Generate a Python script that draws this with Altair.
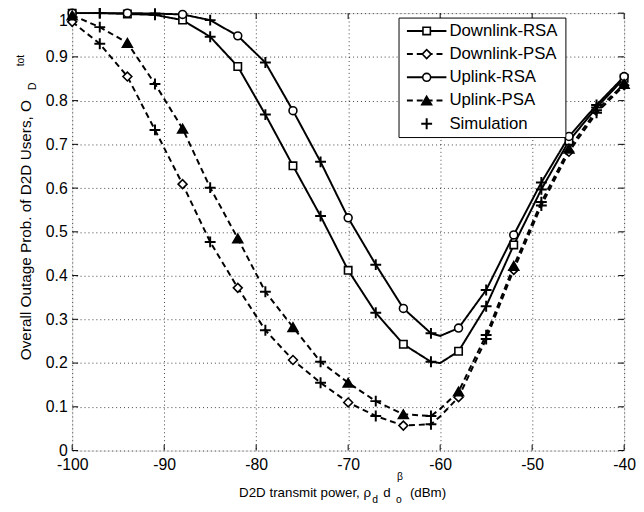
import altair as alt
import pandas as pd

# ---------------- data ----------------
x_curve = [-100, -97, -94, -91, -88, -85, -82, -79, -76, -73, -70,
           -67, -64, -61, -60, -58, -55, -52, -49, -46, -43, -40]

dl_rsa = [1.0, 1.0, 0.998, 0.996, 0.984, 0.946, 0.878, 0.768, 0.651, 0.536, 0.412,
          0.315, 0.243, 0.203, 0.200, 0.227, 0.330, 0.470, 0.597, 0.708, 0.784, 0.851]
dl_psa = [0.980, 0.930, 0.855, 0.733, 0.609, 0.477, 0.372, 0.275, 0.207, 0.155, 0.110,
          0.079, 0.057, 0.060, 0.078, 0.122, 0.255, 0.413, 0.560, 0.683, 0.772, 0.835]
ul_rsa = [1.0, 1.0, 1.0, 0.999, 0.997, 0.984, 0.948, 0.887, 0.777, 0.660, 0.532,
          0.425, 0.325, 0.268, 0.262, 0.280, 0.367, 0.493, 0.613, 0.718, 0.790, 0.855]
ul_psa = [0.995, 0.968, 0.932, 0.838, 0.736, 0.601, 0.485, 0.363, 0.282, 0.203, 0.155,
          0.113, 0.083, 0.079, 0.095, 0.135, 0.264, 0.422, 0.568, 0.690, 0.778, 0.838]

series_names = ["Downlink-RSA", "Downlink-PSA", "Uplink-RSA", "Uplink-PSA"]
series_values = [dl_rsa, dl_psa, ul_rsa, ul_psa]
series_shapes = ["square", "diamond", "circle", "triangle-up"]
series_fill = ["white", "white", "white", "black"]
series_size = [56, 81, 64, 100]
series_dash = [[1, 0], [6, 4], [1, 0], [6, 4]]
sim_name = "Simulation"

marker_x = [-100, -94, -88, -82, -76, -70, -64, -58, -52, -46, -40]
sim_x = [-97, -91, -85, -79, -73, -67, -61, -55, -49, -43]

x_ticks = [-100, -90, -80, -70, -60, -50, -40]
y_ticks = [0, 0.1, 0.2, 0.3, 0.4, 0.5, 0.6, 0.7, 0.8, 0.9, 1]

# ---------------- tables ----------------
rows = []
for name, vals in zip(series_names, series_values):
    for xv, yv in zip(x_curve, vals):
        rows.append({"series": name, "x": xv, "y": yv})
df = pd.DataFrame(rows)

W, H = 559, 443
CROSS = "M-1,0L1,0M0,-1L0,1"

grid_axis = dict(title=None, grid=True, ticks=False, domain=False,
                 labelFontSize=16, labelColor="black", labelFont="Liberation Sans",
                 gridDash=[1, 3], gridColor="black", gridOpacity=0.75, gridWidth=1,
                 labelOverlap=False, labelExpr="'' + datum.value")


def X(field):
    return alt.X(field, scale=alt.Scale(domain=[-100, -40], nice=False, zero=False),
                 axis=alt.Axis(values=x_ticks, labelFlush=False, labelPadding=6, **grid_axis))


def Y(field):
    return alt.Y(field, scale=alt.Scale(domain=[0, 1], nice=False, zero=False),
                 axis=alt.Axis(values=y_ticks, labelPadding=5, labelFlush=False,
                               labelBaseline=alt.ExprRef("datum.value >= 1 ? 'top' : 'middle'"),
                               **grid_axis))


layers = []

# curves
layers.append(
    alt.Chart(df).mark_line(color="black", strokeWidth=2).encode(
        x=X("x:Q"), y=Y("y:Q"), detail="series:N",
        strokeDash=alt.StrokeDash("series:N",
                                  scale=alt.Scale(domain=series_names, range=series_dash),
                                  legend=None),
    )
)

# theory markers
for name, shp, fil, sz in zip(series_names, series_shapes, series_fill, series_size):
    sub = df[(df.series == name) & (df.x.isin(marker_x))]
    layers.append(
        alt.Chart(sub).mark_point(shape=shp, size=sz, filled=True, fill=fil,
                                  stroke="black", strokeWidth=1.6, opacity=1).encode(
            x=X("x:Q"), y=Y("y:Q"))
    )

# simulation markers
sim = df[df.x.isin(sim_x)]
layers.append(
    alt.Chart(sim).mark_point(shape=CROSS, size=121, filled=False, stroke="black",
                              strokeWidth=2, opacity=1).encode(x=X("x:Q"), y=Y("y:Q"))
)

# inward ticks (box style)
xt = pd.DataFrame({"x": x_ticks})
yt = pd.DataFrame({"y": y_ticks})
layers.append(alt.Chart(xt).mark_rule(color="black").encode(x=X("x:Q"), y=alt.value(H), y2=alt.value(H - 6)))
layers.append(alt.Chart(xt).mark_rule(color="black").encode(x=X("x:Q"), y=alt.value(0), y2=alt.value(6)))
layers.append(alt.Chart(yt).mark_rule(color="black").encode(y=Y("y:Q"), x=alt.value(0), x2=alt.value(6)))
layers.append(alt.Chart(yt).mark_rule(color="black").encode(y=Y("y:Q"), x=alt.value(W - 6), x2=alt.value(W)))

# ---------------- legend (drawn by hand) ----------------
one = pd.DataFrame({"a": [0]})
layers.append(
    alt.Chart(one).mark_rect(fill="white", stroke="black", strokeWidth=1).encode(
        x=alt.value(331), x2=alt.value(500), y=alt.value(5), y2=alt.value(126))
)
leg_names = series_names + [sim_name]
for i, name in enumerate(leg_names):
    ry = 18 + 23.5 * i
    if i < 4:
        layers.append(alt.Chart(one).mark_rule(color="black", strokeWidth=2,
                                               strokeDash=series_dash[i]).encode(
            x=alt.value(339), x2=alt.value(379), y=alt.value(ry)))
        layers.append(alt.Chart(one).mark_point(shape=series_shapes[i], size=series_size[i],
                                                filled=True, fill=series_fill[i], stroke="black",
                                                strokeWidth=1.6, opacity=1).encode(
            x=alt.value(359), y=alt.value(ry)))
    else:
        layers.append(alt.Chart(one).mark_point(shape=CROSS, size=121, filled=False,
                                                stroke="black", strokeWidth=2, opacity=1).encode(
            x=alt.value(359), y=alt.value(ry)))
    layers.append(alt.Chart(one).mark_text(align="left", baseline="middle", fontSize=17,
                                           font="Liberation Sans", color="black").encode(
        x=alt.value(382), y=alt.value(ry), text=alt.value(name)))

# ---------------- axis titles with sub/superscripts ----------------
TF = "Liberation Sans"


def txt(s, x, y, size, angle=0, align="left", baseline="alphabetic", font=TF):
    return alt.Chart(one).mark_text(align=align, baseline=baseline, fontSize=size, angle=angle,
                                    font=font, color="black").encode(
        x=alt.value(x), y=alt.value(y), text=alt.value(s))


# y title (rotated)
layers.append(txt("Overall Outage Prob. of D2D Users, O", -47, 88, 15.5, angle=270,
                  align="right", baseline="middle"))
layers.append(txt("D", -40, 74, 10.5, angle=270, align="center", baseline="middle"))
layers.append(txt("tot", -52, 48, 10.5, angle=270, align="center", baseline="middle"))

# x title
layers.append(txt("D2D transmit power, ρ", 169, 490, 13.5))
layers.append(txt("d", 304, 496, 10.5))
layers.append(txt("d", 315, 490, 13.5))
layers.append(txt("o", 328, 496, 10.5))
layers.append(txt("β", 329, 473, 10.5))
layers.append(txt("(dBm)", 342, 490, 13.5))

chart = alt.layer(*layers).properties(
    width=W, height=H,
    autosize=alt.AutoSizeParams(type="none"),
    padding={"left": 65, "top": 2, "right": 12, "bottom": 56},
).configure_view(stroke="black", strokeWidth=1).configure(font="Liberation Sans")

chart.save("out.html", embed_options={"renderer": "svg", "actions": False})
